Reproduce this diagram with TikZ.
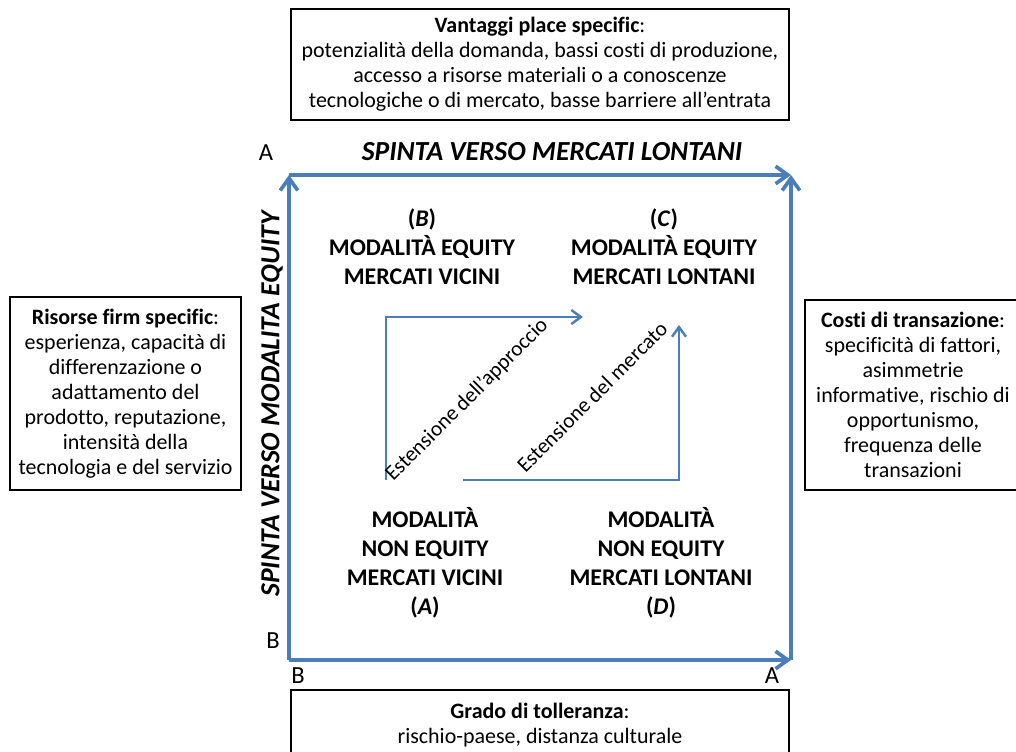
\documentclass[tikz,border=0pt]{standalone}
\usepackage{fontspec}
\setmainfont{Carlito}[Ligatures=NoCommon]
\usetikzlibrary{arrows.meta}
\definecolor{officeblue}{RGB}{74,126,187}
\tikzset{
  box/.style={draw, line width=0.8pt, align=center, inner sep=0pt,
    font=\fontsize{12.5}{14.2}\selectfont},
  quad/.style={align=center, font=\bfseries\fontsize{13.6}{16.5}\selectfont},
  lettera/.style={font=\fontsize{14}{16}\selectfont},
  spinta/.style={officeblue, line width=2.1pt, -{Straight Barb[length=7pt,width=10pt]}},
  estensione/.style={officeblue, line width=1.4pt, -{Straight Barb[length=5.5pt,width=8pt]}},
}
\begin{document}
\begin{tikzpicture}[x=0.02cm, y=-0.02cm]
    \clip (0,0) rectangle (1016,751);
    % boxes round the square
    \node[box, minimum width=9.96cm, minimum height=2.22cm] (vantaggi) at (540,64.5){\textbf{Vantaggi place specific}:\\potenzialità della domanda, bassi costi di produzione,\\accesso a risorse materiali o a conoscenze\\tecnologiche o di mercato, basse barriere all’entrata};
    \node[box, minimum width=4.62cm, minimum height=3.86cm] (risorse) at (125.5,393.5){\textbf{Risorse firm specific}:\\esperienza, capacità di\\differenzazione o\\adattamento del\\prodotto, reputazione,\\intensità della\\tecnologia e del servizio};
    \node[box, minimum width=4.32cm, minimum height=3.8cm] (costi) at (913,395){\textbf{Costi di transazione}:\\specificità di fattori,\\asimmetrie\\informative, rischio di\\opportunismo,\\frequenza delle\\transazioni};
    \node[box, minimum width=9.96cm, minimum height=1.4cm] (grado) at (540,725){\textbf{Grado di tolleranza}:\\rischio-paese, distanza culturale};
    % the square
    \coordinate (bl) at (289,660);
    \coordinate (tl) at (289,175);
    \coordinate (tr) at (791,175);
    \coordinate (br) at (791,660);
    \draw[spinta] (bl)--(tl);
    \draw[spinta] (tl)--(tr);
    \draw[spinta] (bl)--(br);
    \draw[spinta] (br)--(tr);
    \node[font=\bfseries\itshape\fontsize{15.7}{18}\selectfont] (mercati) at (552,152){SPINTA VERSO MERCATI LONTANI};
    \node[rotate=90, font=\bfseries\itshape\fontsize{15.7}{18}\selectfont] (equity) at (272,404){SPINTA VERSO MODALITA EQUITY};
    \node[lettera] (a1) at (266,153){A};
    \node[lettera] (b1) at (273,641){B};
    \node[lettera] (b2) at (298,676){B};
    \node[lettera] (a2) at (772,676){A};
    % quadrants
    \node[quad] (qb) at (422,247){(\textit{B})\\MODALITÀ EQUITY\\MERCATI VICINI};
    \node[quad] (qc) at (664,247){(\textit{C})\\MODALITÀ EQUITY\\MERCATI LONTANI};
    \node[quad] (qa) at (425,563){MODALITÀ\\NON EQUITY\\MERCATI VICINI\\(\textit{A})};
    \node[quad] (qd) at (661,563){MODALITÀ\\NON EQUITY\\MERCATI LONTANI\\(\textit{D})};
    % paths
    \coordinate (app0) at (386,480);
    \coordinate (app1) at (583,317);
    \coordinate (mer0) at (463,480);
    \coordinate (mer1) at (679,325);
    \draw[estensione] (app0) |- (app1);
    \draw[estensione] (mer0) -| (mer1);
    \node[rotate=45, font=\fontsize{12.2}{14}\selectfont] (approccio) at (467,400){Estensione dell’approccio};
    \node[rotate=45, font=\fontsize{12.2}{14}\selectfont] (mercato) at (592,397){Estensione del mercato};
\end{tikzpicture}
\end{document}
